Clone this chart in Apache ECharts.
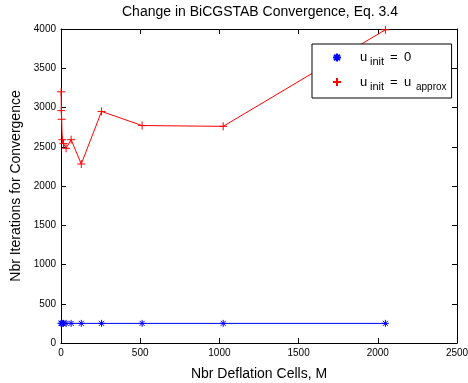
<!DOCTYPE html>
<html>
<head>
<meta charset="utf-8">
<script src="https://cdn.jsdelivr.net/npm/echarts@6/dist/echarts.min.js"></script>
<style>
  html, body { margin: 0; padding: 0; background: #fff; }
  #chart { width: 468px; height: 383px; }
</style>
</head>
<body>
<div id="chart"></div>
<script>
// Number of deflation cells M
const cells = [1, 2, 4, 8, 16, 32, 64, 128, 256, 512, 1024, 2048];
// BiCGSTAB iterations with zero initial guess
const itersZero = [250, 250, 250, 250, 250, 250, 250, 250, 250, 250, 250, 250];
// BiCGSTAB iterations with approximate initial guess
const itersApprox = [3200, 2960, 2850, 2590, 2540, 2480, 2590, 2280, 2950, 2770, 2760, 3990];
const xTicks = { min: 0, max: 2500, step: 500 };
const yTicks = { min: 0, max: 4000, step: 500 };

const FONT = '"Liberation Sans", Arial, Helvetica, sans-serif';
const STAR = 'path://M0,-4L0,4M-4,0L4,0M-2.9,-2.9L2.9,2.9M-2.9,2.9L2.9,-2.9';
const PLUS = 'path://M0,-4L0,4M-4,0L4,0';

const pairs = (xs, ys) => xs.map((x, i) => [x, ys[i]]);
const plain = (v) => String(v);

const frameAxis = (extra) => Object.assign({
  type: 'value',
  axisLine: { show: true, onZero: false, lineStyle: { color: '#000', width: 1 } },
  axisTick: { show: true, inside: true, length: 5, lineStyle: { color: '#000' } },
  splitLine: { show: false },
  axisLabel: { color: '#000', fontSize: 10, fontFamily: FONT },
  nameTextStyle: { color: '#000', fontSize: 14, fontFamily: FONT }
}, extra);

const chart = echarts.init(document.getElementById('chart'), null, { renderer: 'canvas' });
chart.setOption({
  animation: false,
  backgroundColor: '#fff',
  textStyle: { fontFamily: FONT },
  title: {
    text: 'Change in BiCGSTAB Convergence, Eq. 3.4',
    left: 260,
    textAlign: 'center',
    top: 5,
    padding: 0,
    textStyle: { color: '#000', fontSize: 14, fontWeight: 'normal', fontFamily: FONT }
  },
  grid: { left: 61, right: 11, top: 29, bottom: 40, containLabel: false, outerBoundsMode: 'none' },
  xAxis: [
    frameAxis({
      position: 'bottom', min: xTicks.min, max: xTicks.max, interval: xTicks.step,
      axisLabel: { color: '#000', fontSize: 10, fontFamily: FONT, margin: 5, formatter: plain },
      name: 'Nbr Deflation Cells, M', nameLocation: 'middle', nameGap: 24
    }),
    frameAxis({
      position: 'top', min: xTicks.min, max: xTicks.max, interval: xTicks.step,
      axisLabel: { show: false }
    })
  ],
  yAxis: [
    frameAxis({
      position: 'left', min: yTicks.min, max: yTicks.max, interval: yTicks.step,
      axisLabel: { color: '#000', fontSize: 10, fontFamily: FONT, margin: 5, formatter: plain },
      name: 'Nbr Iterations for Convergence', nameLocation: 'middle', nameGap: 30
    }),
    frameAxis({
      position: 'right', min: yTicks.min, max: yTicks.max, interval: yTicks.step,
      axisLabel: { show: false }
    })
  ],
  legend: {
    orient: 'vertical',
    left: 312,
    top: 44,
    padding: [7, 5, 6, 20],
    itemGap: 8,
    itemWidth: 10,
    itemHeight: 8,
    backgroundColor: '#fff',
    borderColor: '#000',
    borderWidth: 1,
    borderRadius: 0,
    data: [
      { name: 'u_init = 0', icon: STAR },
      { name: 'u_init = u_approx', icon: PLUS }
    ],
    formatter: function (name) {
      return name === 'u_init = 0'
        ? '{u|u}{s|init}{eq|=}{v|0}'
        : '{u|u}{s|init}{eq|=}{v|u}{a|approx}';
    },
    textStyle: {
      color: '#000',
      fontFamily: FONT,
      rich: {
        u: { fontSize: 13, lineHeight: 20, width: 10, padding: [0, 0, 0, 13], verticalAlign: 'middle', fontFamily: FONT, color: '#000' },
        s: { fontSize: 11, lineHeight: 10, width: 20, verticalAlign: 'bottom', fontFamily: FONT, color: '#000' },
        eq: { fontSize: 13, lineHeight: 20, width: 14, verticalAlign: 'middle', fontFamily: FONT, color: '#000' },
        v: { fontSize: 13, lineHeight: 20, width: 12, verticalAlign: 'middle', fontFamily: FONT, color: '#000' },
        a: { fontSize: 10, lineHeight: 10, verticalAlign: 'bottom', fontFamily: FONT, color: '#000' }
      }
    }
  },
  series: [
    {
      name: 'u_init = 0',
      type: 'line',
      data: pairs(cells, itersZero),
      symbol: STAR,
      symbolSize: 7,
      showAllSymbol: true,
      lineStyle: { color: '#0000ff', width: 1 },
      itemStyle: { color: 'transparent', borderColor: '#0000ff', borderWidth: 1 },
      emphasis: { disabled: true },
      z: 3
    },
    {
      name: 'u_init = u_approx',
      type: 'line',
      data: pairs(cells, itersApprox),
      symbol: PLUS,
      symbolSize: 8,
      showAllSymbol: true,
      lineStyle: { color: '#ff0000', width: 1 },
      itemStyle: { color: 'transparent', borderColor: '#ff0000', borderWidth: 1 },
      emphasis: { disabled: true },
      z: 3
    }
  ]
});
</script>
</body>
</html>
